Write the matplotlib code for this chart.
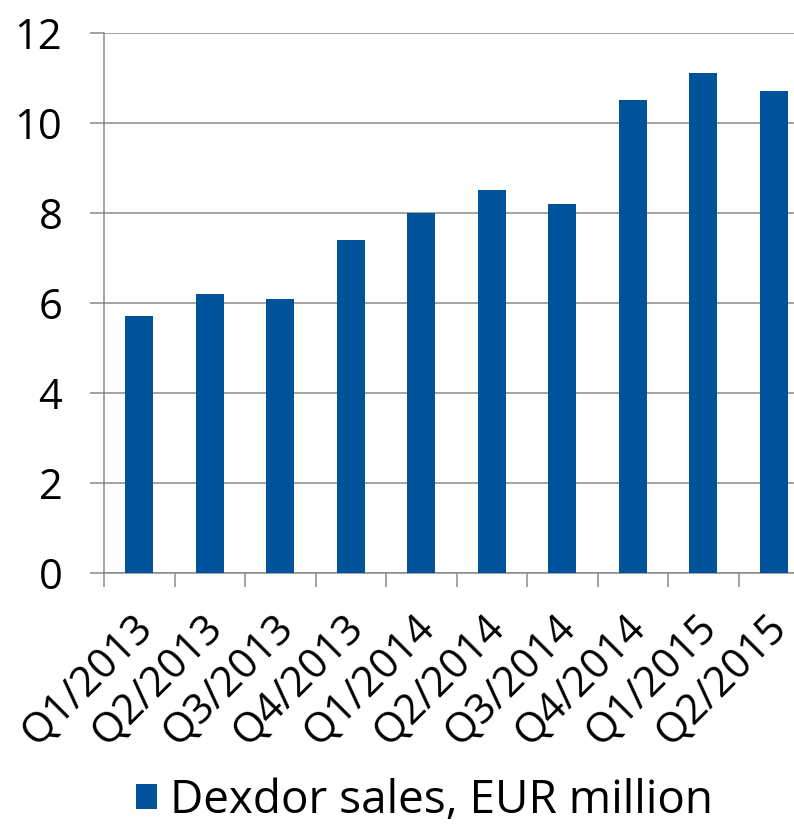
import matplotlib.pyplot as plt
import matplotlib.transforms as mtransforms
import numpy as np

quarters = ["Q1/2013", "Q2/2013", "Q3/2013", "Q4/2013", "Q1/2014",
            "Q2/2014", "Q3/2014", "Q4/2014", "Q1/2015", "Q2/2015"]
sales = [5.7, 6.2, 6.1, 7.4, 8.0, 8.5, 8.2, 10.5, 11.1, 10.7]
series_name = "Dexdor sales, EUR million"

bar_color = "#00529B"
grid_color = "#8A8A8A"

plt.rcParams["font.family"] = ["Open Sans", "DejaVu Sans"]

fig = plt.figure(figsize=(7.94, 8.24), dpi=100)
ax = fig.add_axes([104 / 794, 1 - 573 / 824, 705 / 794, 540 / 824])

x = np.arange(len(quarters))
ax.bar(x, sales, width=0.4, color=bar_color, label=series_name, zorder=3)

ax.set_xlim(-0.5, len(quarters) - 0.5)
ax.set_ylim(0, 12)
ax.set_yticks(range(0, 13, 2))
ax.yaxis.grid(True, color=grid_color, linewidth=1.1, zorder=0)

for side in ["top", "right"]:
    ax.spines[side].set_visible(False)
for side in ["left", "bottom"]:
    ax.spines[side].set_color(grid_color)
    ax.spines[side].set_linewidth(1.1)

ax.tick_params(axis="y", length=10, width=1.1, color=grid_color, pad=20,
               labelsize=30)
ax.set_xticks(x)
ax.set_xticklabels(quarters, rotation=45, ha="right", rotation_mode="anchor",
                   fontsize=30)
ax.tick_params(axis="x", which="major", length=0, pad=24)
ax.set_xticks(np.arange(len(quarters) + 1) - 0.5, minor=True)
ax.tick_params(axis="x", which="minor", length=10, width=1.1, color=grid_color)

# nudge the rotated labels a little to the left
offset = mtransforms.ScaledTranslation(-8 / 100, 0, fig.dpi_scale_trans)
for label in ax.get_xticklabels():
    label.set_transform(label.get_transform() + offset)

fig.legend(loc="center", bbox_to_anchor=(0.535, 0.028), frameon=False,
           fontsize=33, handlelength=0.45, handleheight=0.45,
           handletextpad=0.3)

fig.savefig("out.png", dpi=100)
